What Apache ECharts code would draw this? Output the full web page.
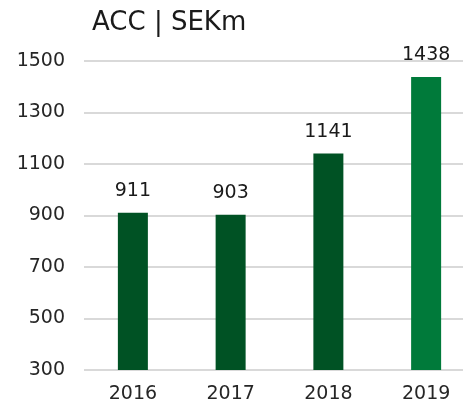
<!DOCTYPE html>
<html>
<head>
<meta charset="utf-8">
<script src="https://cdn.jsdelivr.net/npm/echarts@6/dist/echarts.min.js"></script>
<style>
  html, body { margin: 0; padding: 0; background: #fff; }
  #chart { width: 463px; height: 407px; }
</style>
</head>
<body>
<div id="chart"></div>
<script>
// ACC omsättning per år
const years = ['2016', '2017', '2018', '2019'];
const values = [911, 903, 1141, 1438];
const barColors = ['#005224', '#005224', '#005224', '#007a3a'];
const yTicks = { min: 300, max: 1500, interval: 200 };

const chart = echarts.init(document.getElementById('chart'));

const option = {
  animation: false,
  textStyle: { fontFamily: 'DejaVu Sans, sans-serif' },
  title: {
    text: 'ACC | SEKm',
    left: 87,
    top: 5,
    textStyle: { fontSize: 26, fontWeight: 'normal', color: '#1a1a1a' },
  },
  grid: {
    left: 84,
    top: 61,
    width: 391,
    height: 309,
    outerBoundsMode: 'none',
  },
  xAxis: {
    type: 'category',
    data: years,
    axisLine: { show: false },
    axisTick: { show: false },
    axisLabel: { fontSize: 19, color: '#262626', margin: 15 },
  },
  yAxis: {
    type: 'value',
    min: yTicks.min,
    max: yTicks.max,
    interval: yTicks.interval,
    axisLine: { show: false },
    axisTick: { show: false },
    axisLabel: { fontSize: 19, color: '#262626', margin: 19, formatter: v => String(v) },
    splitLine: { lineStyle: { color: '#d9d9d9', width: 2 } },
  },
  series: [
    {
      type: 'bar',
      barWidth: 30,
      data: values.map((v, i) => ({ value: v, itemStyle: { color: barColors[i] } })),
      label: {
        show: true,
        position: 'top',
        distance: 12,
        fontSize: 19,
        color: '#1a1a1a',
      },
    },
  ],
};

chart.setOption(option);
</script>
</body>
</html>
